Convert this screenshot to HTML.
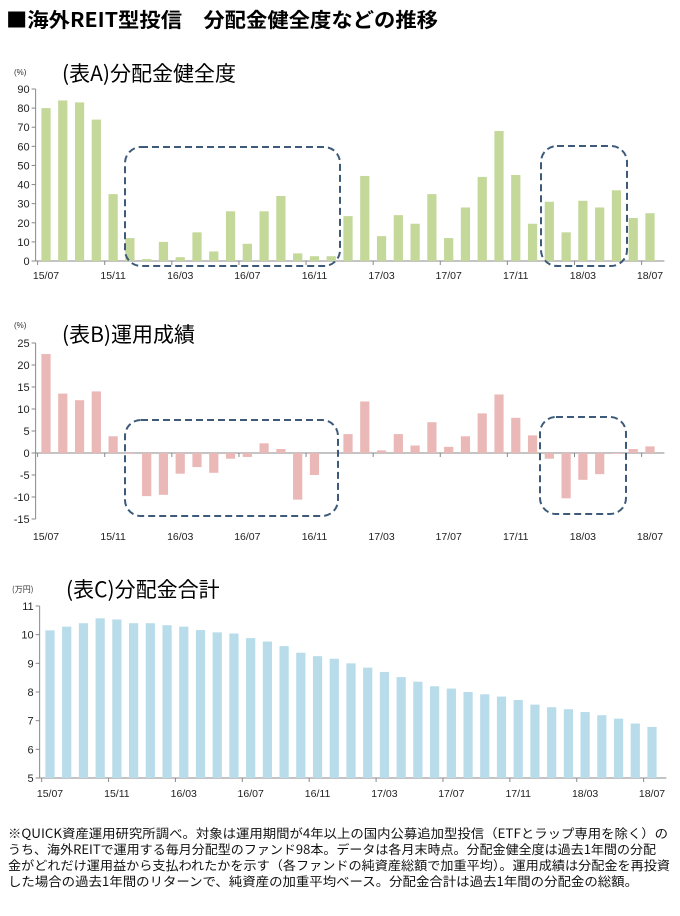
<!DOCTYPE html>
<html><head><meta charset="utf-8"><style>
html,body{margin:0;padding:0;background:#fff;}
svg{display:block;font-family:"Liberation Sans","Noto Sans CJK JP",sans-serif;}
</style></head><body>
<svg id="s" width="680" height="916" viewBox="0 0 680 916" xmlns="http://www.w3.org/2000/svg">
<text x="6" y="27" font-size="20" font-weight="bold" fill="#000" font-family="'Noto Sans CJK JP',sans-serif" textLength="432" lengthAdjust="spacingAndGlyphs">■海外REIT型投信　分配金健全度などの推移</text>
<text x="14" y="75" font-size="8" fill="#333">(%)</text>
<text x="62" y="81" font-size="21" fill="#000" font-family="'Noto Sans CJK JP',sans-serif">(表A)分配金健全度</text>
<text x="14" y="328" font-size="8" fill="#333">(%)</text>
<text x="62" y="342" font-size="21" fill="#000" font-family="'Noto Sans CJK JP',sans-serif">(表B)運用成績</text>
<text x="12" y="592" font-size="8" fill="#333" font-family="'Noto Sans CJK JP',sans-serif">(万円)</text>
<text x="66" y="597" font-size="21" fill="#000" font-family="'Noto Sans CJK JP',sans-serif">(表C)分配金合計</text>
<g font-size="12.5" fill="#111" font-family="'Noto Sans CJK JP',sans-serif">
<text x="8" y="838" textLength="660" lengthAdjust="spacingAndGlyphs">※QUICK資産運用研究所調べ。対象は運用期間が4年以上の国内公募追加型投信（ETFとラップ専用を除く）の</text>
<text x="8" y="854" textLength="648" lengthAdjust="spacingAndGlyphs">うち、海外REITで運用する毎月分配型のファンド98本。データは各月末時点。分配金健全度は過去1年間の分配</text>
<text x="8" y="870" textLength="662" lengthAdjust="spacingAndGlyphs">金がどれだけ運用益から支払われたかを示す（各ファンドの純資産総額で加重平均）。運用成績は分配金を再投資</text>
<text x="8" y="886" textLength="630" lengthAdjust="spacingAndGlyphs">した場合の過去1年間のリターンで、純資産の加重平均ベース。分配金合計は過去1年間の分配金の総額。</text>
</g>
<g id="g"></g>
</svg>
<script>
var g=document.getElementById('g'),h='';
var A=[80,84,83,74,35,12,1,10,2,15,5,26,9,26,34,4,2.5,2.5,23.5,44.5,13,24,19.5,35,12,28,44,68,45,19.5,31,15,31.5,28,37,22.5,25];
var B=[22.5,13.5,12,14,3.8,-0.2,-9.8,-9.5,-4.7,-3.2,-4.5,-1.3,-0.9,2.2,0.9,-10.6,-5,0,4.3,11.7,0.6,4.3,1.7,7,1.4,3.8,9,13.3,8,4,-1.3,-10.3,-6.1,-4.8,-0.2,0.9,1.5];
var C=[10.15,10.28,10.4,10.57,10.53,10.4,10.4,10.33,10.28,10.16,10.08,10.04,9.88,9.76,9.6,9.37,9.25,9.16,9.0,8.85,8.7,8.52,8.36,8.2,8.12,8.0,7.92,7.84,7.72,7.56,7.47,7.4,7.3,7.19,7.07,6.9,6.78];
var labs=['15/07','15/11','16/03','16/07','16/11','17/03','17/07','17/11','18/03','18/07'];
function chart(d,vmin,vmax,ytop,ybot,step,x0,x1,col,zeroY,labY){
  var sp=(x1-x0)/36,bw=sp*0.55;
  function Y(v){return ytop+(vmax-v)/(vmax-vmin)*(ybot-ytop);}
  var ax=x0-sp/2-2;
  h+='<line x1="'+ax+'" y1="'+ytop+'" x2="'+ax+'" y2="'+ybot+'" stroke="#888" stroke-width="1"/>';
  for(var v=vmin;v<=vmax+1e-9;v+=step){var y=Y(v);h+='<line x1="'+(ax-4)+'" y1="'+y+'" x2="'+ax+'" y2="'+y+'" stroke="#888"/>';
   h+='<text x="'+(ax-6)+'" y="'+(y+4)+'" font-size="11" text-anchor="end" fill="#222">'+v+'</text>';}
  var zy=Y(zeroY);
  h+='<line x1="'+ax+'" y1="'+zy+'" x2="'+(x1+sp/2+6)+'" y2="'+zy+'" stroke="#888"/>';
  for(var i=0;i<37;i++){var cx=x0+i*sp,y=Y(d[i]),t=Math.min(y,zy),hh=Math.abs(zy-y);
   h+='<rect x="'+(cx-bw/2)+'" y="'+t+'" width="'+bw+'" height="'+hh+'" fill="'+col+'"/>';
   if(i%4==0){h+='<line x1="'+(cx-sp/2)+'" y1="'+zy+'" x2="'+(cx-sp/2)+'" y2="'+(zy+4)+'" stroke="#888"/>';
   h+='<text x="'+cx+'" y="'+labY+'" font-size="10.5" text-anchor="middle" fill="#222">'+labs[i/4]+'</text>';}}
}
chart(A,0,90,89,261,10,46,650,'#c4d89a',0,279);
chart(B,-15,25,343,519,5,46,650,'#ebb8b8',0,540);
chart(C,5,11,606,778,1,50,652,'#b8dcea',5,797);
function box(x,y,w,hh){h+='<rect x="'+x+'" y="'+y+'" width="'+w+'" height="'+hh+'" rx="16" fill="none" stroke="#3d5a7a" stroke-width="2" stroke-dasharray="7,4"/>';}
box(125,147,215,119);box(541,146,86,120);
box(125,420,213,96);box(540,417,86,97);
g.innerHTML=h;
</script>
</body></html>
